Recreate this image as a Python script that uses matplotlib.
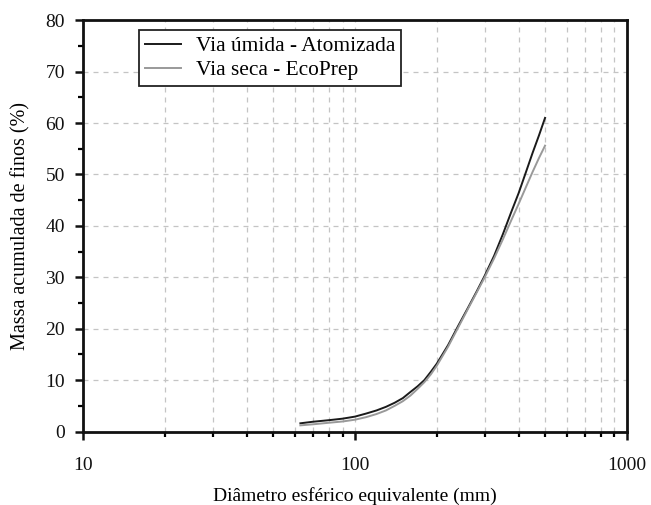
import matplotlib
matplotlib.use("Agg")
import matplotlib.pyplot as plt
import numpy as np
from matplotlib.ticker import LogLocator, FixedLocator, NullFormatter, MultipleLocator

plt.rcParams['font.family'] = ['Liberation Serif', 'DejaVu Serif']

# Particle size and cumulative fines mass (%)
diam_umida = [63, 70, 80, 90, 100, 110, 120, 130, 140, 150, 160, 170, 180, 190, 200,
              220, 240, 260, 280, 300, 325, 350, 375, 400, 425, 450, 475, 500]
massa_umida = [1.6, 1.9, 2.2, 2.5, 2.9, 3.5, 4.1, 4.8, 5.6, 6.5, 7.7, 8.8, 10.0, 11.6, 13.2,
               16.8, 20.6, 24.0, 27.2, 30.3, 34.2, 38.4, 42.6, 46.4, 50.4, 54.2, 57.6, 61.0]

diam_seca = [63, 70, 80, 90, 100, 110, 120, 130, 140, 150, 160, 170, 180, 190, 200,
             220, 240, 260, 280, 300, 325, 350, 375, 400, 425, 450, 475, 500]
massa_seca = [1.2, 1.4, 1.7, 1.95, 2.3, 2.8, 3.4, 4.1, 5.0, 5.9, 7.0, 8.3, 9.6, 11.1, 12.8,
              16.5, 20.3, 23.8, 27.0, 30.0, 33.7, 37.4, 41.0, 44.3, 47.5, 50.5, 53.2, 55.6]

label_umida = "Via úmida - Atomizada"
label_seca = "Via seca - EcoPrep"
x_ticks = [10, 100, 1000]
x_ticklabels = ["10", "100", "1000"]
y_ticks = [0, 10, 20, 30, 40, 50, 60, 70, 80]

fig = plt.figure(figsize=(6.51, 5.05), dpi=100)
ax = fig.add_axes([0.1275, 0.1455, 0.8355, 0.8145])

ax.plot(diam_umida, massa_umida, color="#1a1a1a", lw=1.4, label=label_umida, zorder=3)
ax.plot(diam_seca, massa_seca, color="#999999", lw=1.4, label=label_seca, zorder=3)

ax.set_xscale("log")
ax.set_xlim(10, 1000)
ax.set_ylim(0, 80)
ax.xaxis.set_major_locator(FixedLocator(x_ticks))
ax.set_xticklabels(x_ticklabels)
ax.xaxis.set_minor_locator(LogLocator(base=10, subs=np.arange(2, 10)))
ax.xaxis.set_minor_formatter(NullFormatter())
ax.set_yticks(y_ticks)
ax.yaxis.set_minor_locator(MultipleLocator(5))

grid_kw = dict(color="#c4c4c4", lw=0.9, linestyle=(0, (4, 4)))
ax.grid(True, which="major", axis="both", **grid_kw)
ax.grid(True, which="minor", axis="x", **grid_kw)
ax.set_axisbelow(True)

for side in ["left", "right", "top", "bottom"]:
    ax.spines[side].set_linewidth(2.0)
    ax.spines[side].set_color("#111111")

ax.tick_params(axis="both", which="major", direction="out", length=6, width=1.8,
               labelsize=14, colors="#111111", top=False, right=False, pad=7)
ax.tick_params(axis="x", which="major", pad=12)
ax.tick_params(axis="both", which="minor", direction="out", length=3.6, width=1.6,
               top=False, right=False)

ax.set_xlabel("Diâmetro esférico equivalente (mm)", fontsize=14, labelpad=10)
ax.set_ylabel("Massa acumulada de finos (%)", fontsize=14.5, labelpad=11)

leg = ax.legend(loc="upper left", bbox_to_anchor=(0.103, 0.976), fontsize=15.4,
                frameon=True, fancybox=False, framealpha=1, edgecolor="#222222",
                borderpad=0.3, handlelength=1.65, handletextpad=0.7, labelspacing=0.17,
                borderaxespad=0)
leg.get_frame().set_linewidth(1.3)

fig.savefig("out.png", dpi=100)
